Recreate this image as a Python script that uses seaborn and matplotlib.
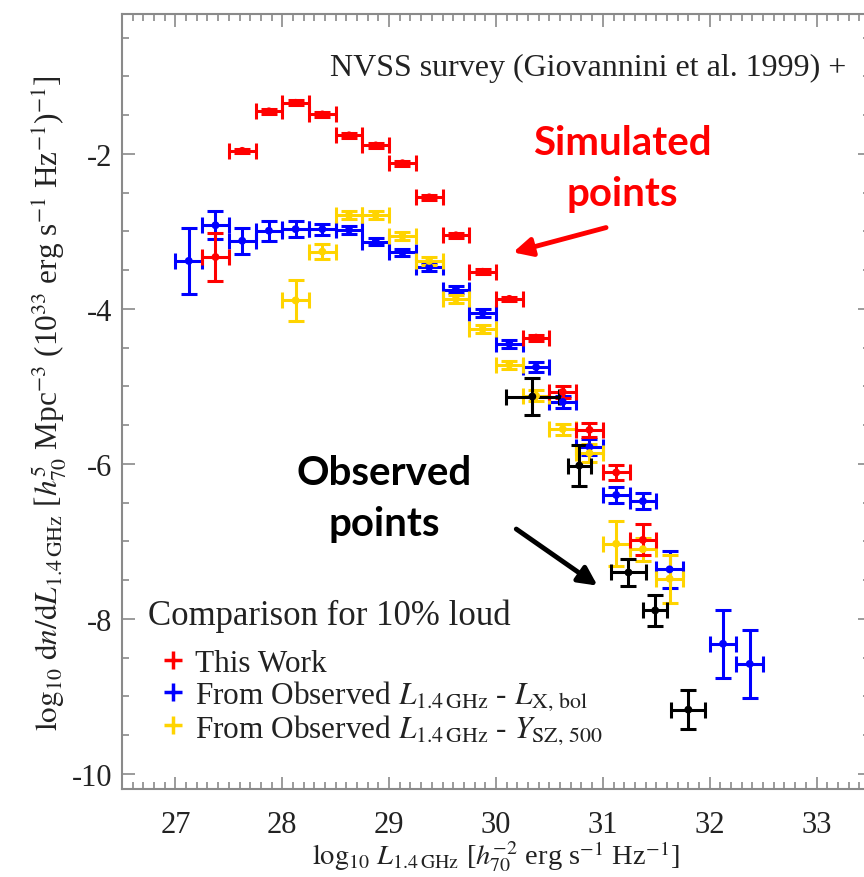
import matplotlib
matplotlib.use("Agg")
import matplotlib.pyplot as plt
from matplotlib.lines import Line2D
from matplotlib.ticker import MultipleLocator
import pandas as pd
import seaborn as sns

# Radio luminosity function, 10% radio-loud clusters.
# x: log10 L_1.4GHz bin centre, y: log10 dn/dL, yerr: 1-sigma
sim_x = [27.375, 27.625, 27.875, 28.125, 28.375, 28.625, 28.875, 29.125, 29.375,
         29.625, 29.875, 30.125, 30.375, 30.625, 30.875, 31.125, 31.375]
sim_y = [-3.33, -1.96, -1.45, -1.34, -1.49, -1.76, -1.89, -2.12, -2.56,
         -3.05, -3.52, -3.87, -4.37, -5.07, -5.56, -6.11, -6.98]
sim_yerr = [0.31, 0.03, 0.03, 0.03, 0.03, 0.03, 0.03, 0.03, 0.03,
            0.03, 0.03, 0.03, 0.04, 0.08, 0.09, 0.10, 0.20]

lx_x = [27.125, 27.375, 27.625, 27.875, 28.125, 28.375, 28.625, 28.875, 29.125,
        29.375, 29.625, 29.875, 30.125, 30.375, 30.625, 30.875, 31.125, 31.375,
        31.625, 32.125, 32.375]
lx_y = [-3.38, -2.92, -3.12, -2.99, -2.97, -2.97, -2.98, -3.13, -3.27,
        -3.46, -3.75, -4.05, -4.45, -4.75, -5.20, -5.78, -6.40, -6.48,
        -7.36, -8.32, -8.58]
lx_yerr = [0.43, 0.18, 0.17, 0.13, 0.10, 0.07, 0.05, 0.05, 0.05,
           0.05, 0.05, 0.05, 0.05, 0.06, 0.08, 0.10, 0.10, 0.10,
           0.24, 0.44, 0.44]

ysz_x = [28.125, 28.375, 28.625, 28.875, 29.125, 29.375, 29.625, 29.875,
         30.125, 30.375, 30.625, 30.875, 31.125, 31.375, 31.625]
ysz_y = [-3.89, -3.26, -2.79, -2.79, -3.06, -3.38, -3.87, -4.26,
         -4.72, -5.12, -5.55, -5.86, -7.03, -7.10, -7.48]
ysz_yerr = [0.26, 0.10, 0.05, 0.05, 0.05, 0.05, 0.05, 0.05,
            0.05, 0.07, 0.07, 0.12, 0.29, 0.15, 0.31]

bin_halfwidth = 0.125

nvss_x = [30.34, 30.78, 31.24, 31.49, 31.80]
nvss_y = [-5.13, -6.02, -7.40, -7.89, -9.17]
nvss_xerr = [0.25, 0.11, 0.16, 0.11, 0.16]
nvss_yerr = [0.24, 0.26, 0.18, 0.20, 0.25]

series_names = ["This Work",
                r"From Observed $L_{1.4\,\mathrm{GHz}}$ - $L_{\mathrm{X,\,bol}}$",
                r"From Observed $L_{1.4\,\mathrm{GHz}}$ - $Y_{\mathrm{SZ,\,500}}$",
                "NVSS"]
series_colors = ["#ff0000", "#0000ff", "#ffd400", "#000000"]

sns.set_theme(style="ticks")
plt.rcParams["font.family"] = ["Liberation Serif", "DejaVu Serif"]
plt.rcParams["mathtext.fontset"] = "stix"
plt.rcParams["axes.unicode_minus"] = False

fig = plt.figure(figsize=(8.64, 8.78), dpi=100)
ax = fig.add_axes([0.1412, 0.0997, 0.8657, 0.8827])

err_kw = dict(fmt="none", elinewidth=2.2, capsize=5.5, capthick=2.2)
ax.errorbar(lx_x, lx_y, xerr=bin_halfwidth, yerr=lx_yerr, ecolor=series_colors[1], zorder=2, **err_kw)
ax.errorbar(ysz_x, ysz_y, xerr=bin_halfwidth, yerr=ysz_yerr, ecolor=series_colors[2], zorder=3, **err_kw)
ax.errorbar(sim_x, sim_y, xerr=bin_halfwidth, yerr=sim_yerr, ecolor=series_colors[0], zorder=4, **err_kw)
ax.errorbar(nvss_x, nvss_y, xerr=nvss_xerr, yerr=nvss_yerr, ecolor=series_colors[3], zorder=5, **err_kw)

frames = []
for name, xs, ys in zip(series_names, [sim_x, lx_x, ysz_x, nvss_x], [sim_y, lx_y, ysz_y, nvss_y]):
    frames.append(pd.DataFrame({"logL": xs, "logdndL": ys, "series": name}))
df = pd.concat(frames, ignore_index=True)
sns.scatterplot(data=df, x="logL", y="logdndL", hue="series",
                palette=dict(zip(series_names, series_colors)),
                s=32, linewidth=0, legend=False, ax=ax, zorder=6)

ax.set_xlim(26.5, 33.5)
ax.set_ylim(-10.2, -0.2)
ax.xaxis.set_major_locator(MultipleLocator(1))
ax.xaxis.set_minor_locator(MultipleLocator(0.1))
ax.yaxis.set_major_locator(MultipleLocator(2))
ax.yaxis.set_minor_locator(MultipleLocator(0.5))
ax.tick_params(which="both", direction="in", top=True, right=True, color="#8a8a8a", width=1.2)
ax.tick_params(which="major", length=9)
ax.tick_params(which="minor", length=5)
ax.tick_params(axis="x", which="major", labelsize=22, pad=15, labelcolor="#222222")
ax.tick_params(axis="y", which="major", labelsize=22, pad=7, labelcolor="#222222")
for sp in ax.spines.values():
    sp.set_color("#8a8a8a")
    sp.set_linewidth(1.5)

ax.set_xlabel(r"$\log_{10}\,L_{1.4\,\mathrm{GHz}}$ [$h^{-2}_{70}$ erg s$^{-1}$ Hz$^{-1}$]",
              fontsize=20.5, color="#222222", labelpad=-1)
ax.set_ylabel(r"$\log_{10}\,\mathrm{d}n/\mathrm{d}L_{1.4\,\mathrm{GHz}}$ [$h^{5}_{70}$ Mpc$^{-3}$ (10$^{33}$ erg s$^{-1}$ Hz$^{-1}$)$^{-1}$]",
              fontsize=22.5, color="#222222", labelpad=2)

ax.text(0.278, 0.932, "NVSS survey (Giovannini et al. 1999) +", transform=ax.transAxes,
        fontsize=23, color="#222222", ha="left", va="center")

ax.text(0.0348, 0.2243, "Comparison for 10% loud", transform=ax.transAxes,
        fontsize=25, color="#222222", ha="left", va="center")
handles = [Line2D([], [], marker="+", linestyle="none", color=c, markersize=13, markeredgewidth=2.5)
           for c in series_colors[:3]]
leg = ax.legend(handles, series_names[:3], loc="upper left", bbox_to_anchor=(0.047, 0.181),
                frameon=False, fontsize=22.5, handlelength=1.0, handletextpad=0.2,
                labelspacing=0.0, borderpad=0, borderaxespad=0)
for t in leg.get_texts():
    t.set_color("#222222")

ann_font = dict(family=["Lato", "DejaVu Sans"], fontweight="bold", fontsize=29, ha="center", va="center",
                linespacing=1.45)
ax.text(31.18, -2.18, "Simulated\npoints", color="#ff0000", **ann_font)
ax.annotate("", xy=(30.16, -3.27), xytext=(31.03, -2.95),
            arrowprops=dict(arrowstyle="-|>", color="#ff0000", lw=3.5, mutation_scale=28,
                            shrinkA=0, shrinkB=0))
ax.text(28.95, -6.44, "Observed\npoints", color="#000000", **ann_font)
ax.annotate("", xy=(30.95, -7.57), xytext=(30.19, -6.84),
            arrowprops=dict(arrowstyle="-|>", color="#000000", lw=3.5, mutation_scale=28,
                            shrinkA=0, shrinkB=0))

fig.savefig("out.png", dpi=100)
